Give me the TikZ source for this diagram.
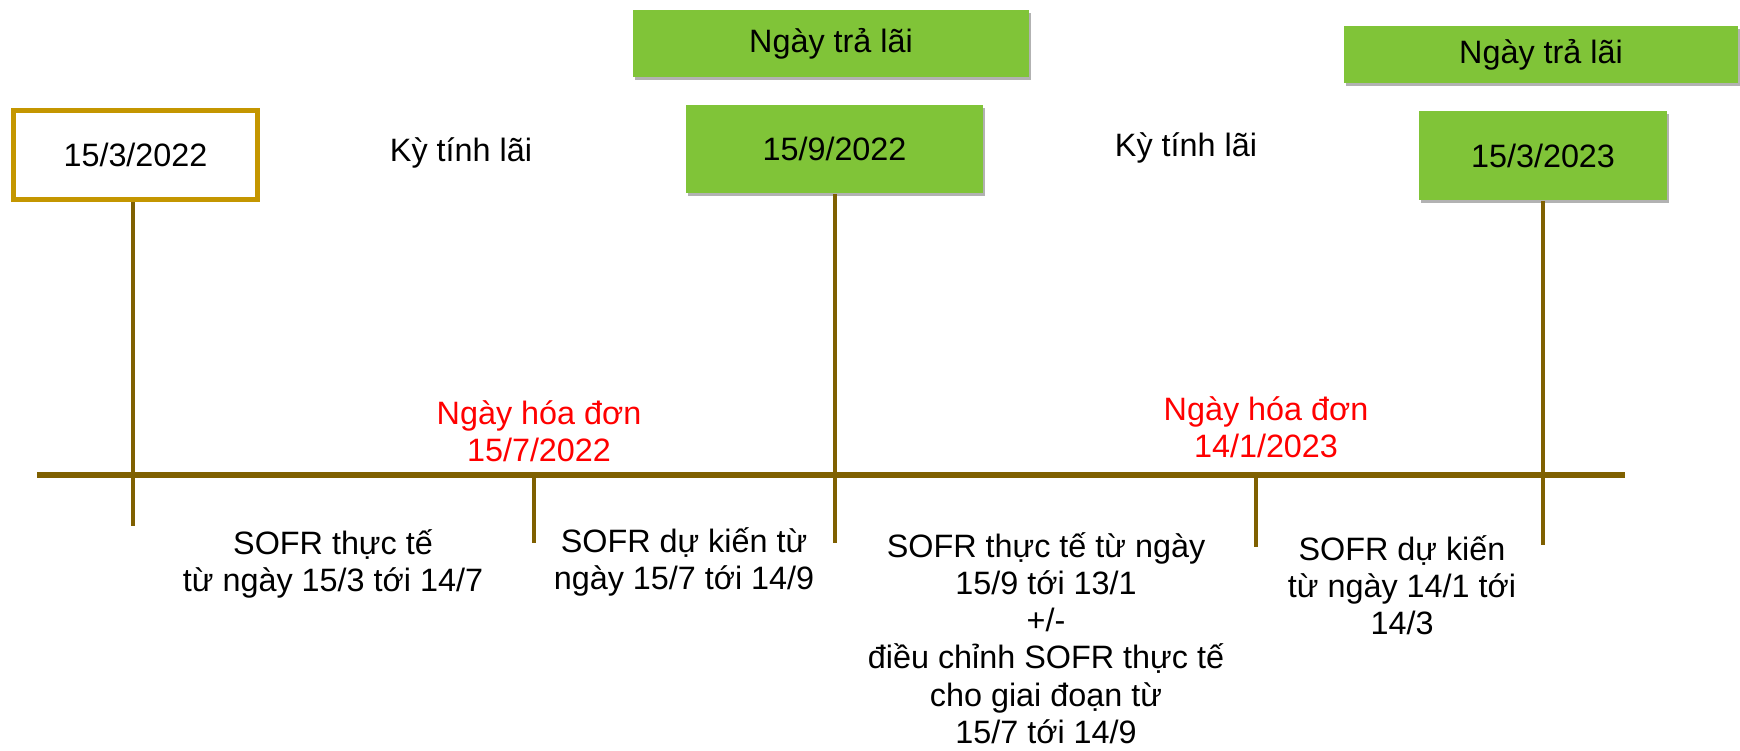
\documentclass[tikz,border=0pt]{standalone}
\usepackage{fontspec}
\setmainfont{Liberation Sans}
\usetikzlibrary{shadows}
\definecolor{gold}{RGB}{196,150,0}
\definecolor{lineb}{RGB}{127,96,0}
\definecolor{boxgreen}{RGB}{128,196,56}
\definecolor{redtxt}{RGB}{255,0,0}
\tikzset{
  txt/.style={align=center, inner sep=0pt, font=\fontsize{9.2pt}{10.6pt}\selectfont},
  datebox/.style={txt, draw=gold, line width=1.45pt, fill=white},
  greenbox/.style={txt, fill=boxgreen, drop shadow={shadow xshift=0.6pt, shadow yshift=-0.9pt, opacity=0.3, fill=black}},
  redlabel/.style={txt, text=redtxt},
  axis/.style={draw=lineb, line width=1.6pt},
  tick/.style={draw=lineb, line width=1.3pt},
}
\begin{document}
\begin{tikzpicture}[x=0.01cm, y=-0.01cm]
\useasboundingbox (0,0) rectangle (1740,750);

% boxes
\node[datebox, minimum width=2.44cm, minimum height=0.89cm] (d1) at (135.5,155) {15/3/2022};
\node[greenbox, minimum width=3.96cm, minimum height=0.67cm] (pay1) at (831,43.5) {Ngày trả lãi};
\node[greenbox, minimum width=2.97cm, minimum height=0.88cm] (d2) at (834.5,149) {15/9/2022};
\node[greenbox, minimum width=3.94cm, minimum height=0.57cm] (pay2) at (1541,54.5) {Ngày trả lãi};
\node[greenbox, minimum width=2.48cm, minimum height=0.89cm] (d3) at (1543,155.5) {15/3/2023};

% period labels
\node[txt] (k1) at (461,153) {Kỳ tính lãi};
\node[txt] (k2) at (1186,148) {Kỳ tính lãi};

% axis and ticks
\coordinate (a0) at (37,475);
\coordinate (a1) at (1625,475);
\coordinate (b1) at (133,526);
\coordinate (b2) at (835,543);
\coordinate (b3) at (1543,545);
\coordinate (t1a) at (534,477);
\coordinate (t1b) at (534,543);
\coordinate (t2a) at (1256,478);
\coordinate (t2b) at (1256,547);

\draw[tick] (b1 |- d1.south) -- (b1);
\draw[tick] (b2 |- d2.south) -- (b2);
\draw[tick] (b3 |- d3.south) -- (b3);
\draw[tick] (t1a) -- (t1b);
\draw[tick] (t2a) -- (t2b);
\draw[axis] (a0) -- (a1);

% invoice dates
\node[redlabel] (inv1) at (539,431) {Ngày hóa đơn\\15/7/2022};
\node[redlabel] (inv2) at (1266,427) {Ngày hóa đơn\\14/1/2023};

% SOFR descriptions
\node[txt] (s1) at (333,564) {SOFR thực tế\\từ ngày 15/3 tới 14/7};
\node[txt] (s2) at (684,562) {SOFR dự kiến từ\\ngày 15/7 tới 14/9};
\node[txt] (s3) at (1046,638) {SOFR thực tế từ ngày\\15/9 tới 13/1\\+/-\\điều chỉnh SOFR thực tế\\cho giai đoạn từ\\15/7 tới 14/9};
\node[txt] (s4) at (1402,585) {SOFR dự kiến\\từ ngày 14/1 tới\\14/3};
\end{tikzpicture}
\end{document}
